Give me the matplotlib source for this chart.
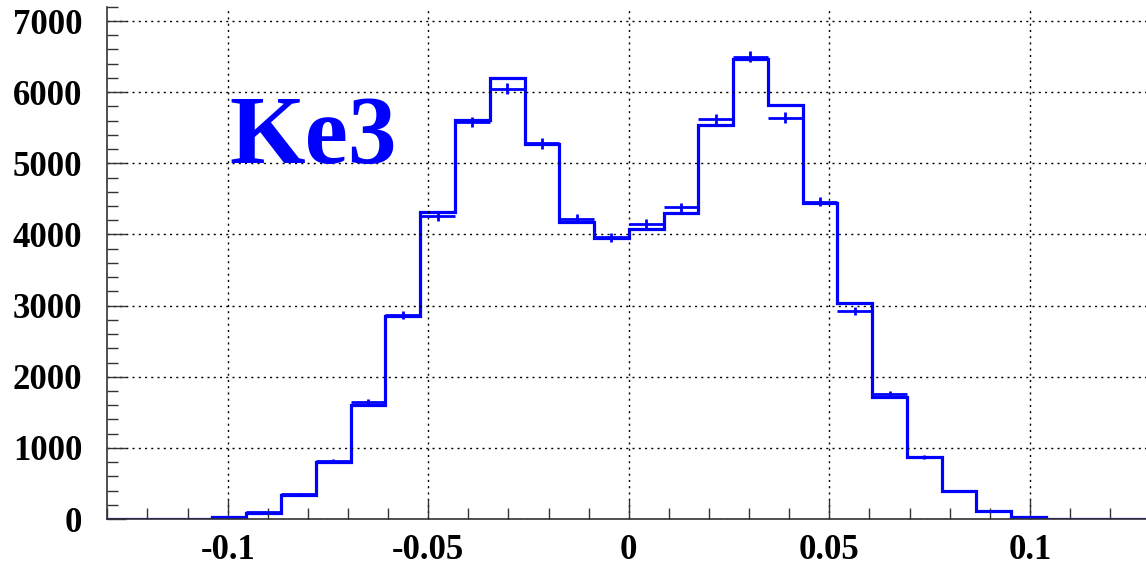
import numpy as np
import matplotlib.pyplot as plt
from matplotlib.ticker import MultipleLocator

# 30 bins from -0.13 to 0.13
x_lo, x_hi, n_bins = -0.13, 0.13, 30

mc_counts = [0, 0, 0, 25, 90, 340, 800, 1600, 2850, 4320,
             5610, 6200, 5275, 4180, 3950, 4080, 4300, 5540, 6470, 5820,
             4445, 3040, 1720, 875, 395, 110, 25, 0, 0, 0]
data_counts = [0, 0, 0, 25, 100, 350, 810, 1650, 2870, 4260,
               5580, 6050, 5280, 4220, 3960, 4150, 4380, 5625, 6500, 5640,
               4460, 2925, 1760, 870, 395, 110, 25, 0, 0, 0]

edges = np.linspace(x_lo, x_hi, n_bins + 1)
centers = 0.5 * (edges[:-1] + edges[1:])
half_w = 0.5 * (edges[1] - edges[0])

plt.rcParams['font.family'] = ['Liberation Serif', 'DejaVu Serif']

fig = plt.figure(figsize=(11.46, 5.66), dpi=100)
ax = fig.add_axes([0.0937, 0.083, 0.910, 0.905])

blue = '#0000ff'
ax.stairs(mc_counts, edges, color=blue, lw=2.3)
data = np.array(data_counts, dtype=float)
mask = data > 0
ax.errorbar(centers[mask], data[mask], xerr=half_w, yerr=np.sqrt(data[mask]),
            fmt='none', ecolor=blue, elinewidth=2.0, capsize=0)

ax.set_xlim(x_lo, x_hi)
ax.set_ylim(0, 7200)

ax.xaxis.set_minor_locator(MultipleLocator(0.01))
ax.yaxis.set_major_locator(MultipleLocator(1000))
ax.yaxis.set_minor_locator(MultipleLocator(200))
ax.set_xticks([-0.1, -0.05, 0, 0.05, 0.1])
ax.set_xticklabels(['-0.1', '-0.05', '0', '0.05', '0.1'])

ax.tick_params(which='both', direction='in', width=1.0, color='#333333')
ax.tick_params(which='major', length=14, labelsize=25)
ax.tick_params(axis='x', which='major', pad=11)
ax.tick_params(axis='y', which='major', pad=18)
ax.tick_params(which='minor', length=8)
for lab in ax.get_xticklabels() + ax.get_yticklabels():
    lab.set_fontweight('bold')

ax.grid(True, which='major', color='black', linestyle=(0, (1.5, 3)), linewidth=1.0)

for side in ['top', 'right']:
    ax.spines[side].set_visible(False)
for side in ['left', 'bottom']:
    ax.spines[side].set_color('#333333')
    ax.spines[side].set_linewidth(1.2)

ax.text(-0.0995, 5000, 'Ke3', color=blue, fontsize=70, fontweight='bold',
        va='baseline')

fig.savefig('out.png', dpi=100)
